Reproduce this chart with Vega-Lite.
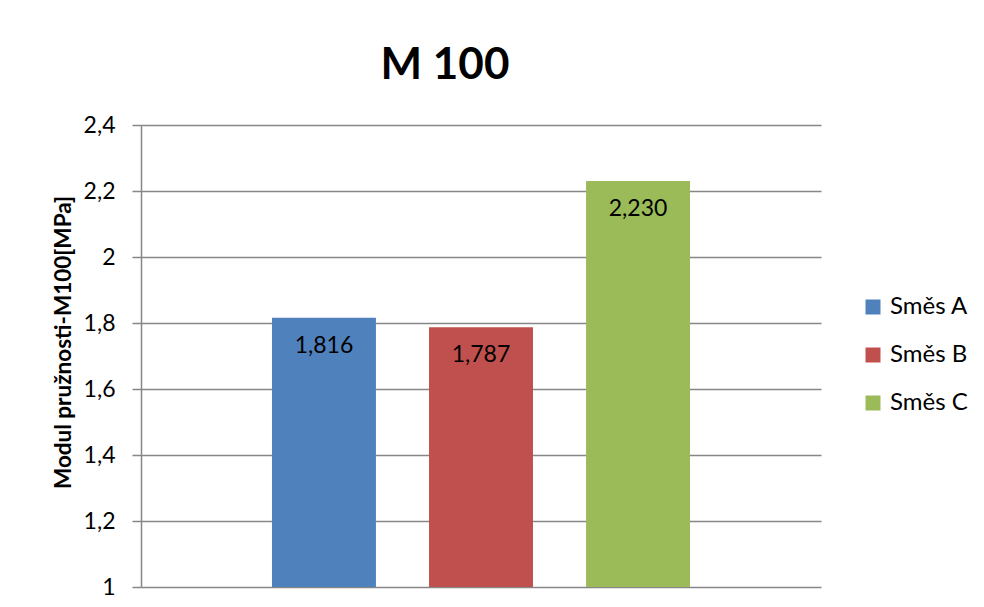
{
  "$schema": "https://vega.github.io/schema/vega-lite/v6.json",
  "width": 680,
  "height": 462,
  "autosize": {"type": "none"},
  "padding": {"left": 141, "top": 125, "right": 163, "bottom": 20},
  "background": "white",
  "title": {
    "text": "M 100",
    "anchor": "middle",
    "frame": "group",
    "baseline": "alphabetic",
    "offset": 34,
    "dx": -36,
    "dy": 43,
    "fontSize": 44,
    "fontWeight": "bold",
    "font": "Lato",
    "color": "#000000"
  },
  "data": {
    "values": [
      {"smes": "Směs A", "m100": 1.816},
      {"smes": "Směs B", "m100": 1.787},
      {"smes": "Směs C", "m100": 2.230}
    ]
  },
  "encoding": {
    "x": {
      "field": "smes",
      "type": "nominal",
      "axis": null,
      "scale": {"paddingInner": 0.338, "paddingOuter": 0.834}
    }
  },
  "layer": [
    {
      "mark": {"type": "bar"},
      "encoding": {
        "y": {
          "field": "m100",
          "type": "quantitative",
          "scale": {"domain": [1, 2.4], "zero": false, "nice": false},
          "axis": {
            "title": "Modul pružnosti-M100[MPa]",
            "values": [1, 1.2, 1.4, 1.6, 1.8, 2, 2.2, 2.4],
            "format": ".1~f",
            "grid": true,
            "gridColor": "#878787",
            "gridWidth": 1.5,
            "domainColor": "#878787",
            "domainWidth": 1.5,
            "tickColor": "#878787",
            "tickWidth": 1.5,
            "tickSize": 9,
            "labelFontSize": 23,
            "labelFont": "Lato",
            "labelColor": "#000000",
            "labelPadding": 17,
            "titleFont": "Lato",
            "titleFontSize": 22.5,
            "titleFontWeight": "bold",
            "titleColor": "#000000",
            "titlePadding": 8,
            "titleY": 217
          }
        },
        "y2": {"datum": 1},
        "color": {
          "field": "smes",
          "type": "nominal",
          "scale": {
            "domain": ["Směs A", "Směs B", "Směs C"],
            "range": ["#4F81BD", "#C0504D", "#9BBB59"]
          },
          "legend": {
            "title": null,
            "orient": "none",
            "legendX": 720,
            "legendY": 170,
            "padding": 0,
            "symbolType": "square",
            "symbolSize": 225,
            "symbolStrokeWidth": 0,
            "labelFont": "Lato",
            "labelFontSize": 24,
            "labelColor": "#000000",
            "labelOffset": 5,
            "rowPadding": 24
          }
        }
      }
    },
    {
      "mark": {"type": "text", "baseline": "middle", "dy": 28, "font": "Lato", "fontSize": 23, "color": "#000000"},
      "encoding": {
        "y": {"field": "m100", "type": "quantitative"},
        "text": {"field": "m100", "type": "quantitative", "format": ".3f"}
      }
    }
  ],
  "config": {
    "view": {"stroke": null},
    "locale": {
      "number": {"decimal": ",", "thousands": " ", "grouping": [3], "currency": ["", " Kč"]}
    }
  }
}
